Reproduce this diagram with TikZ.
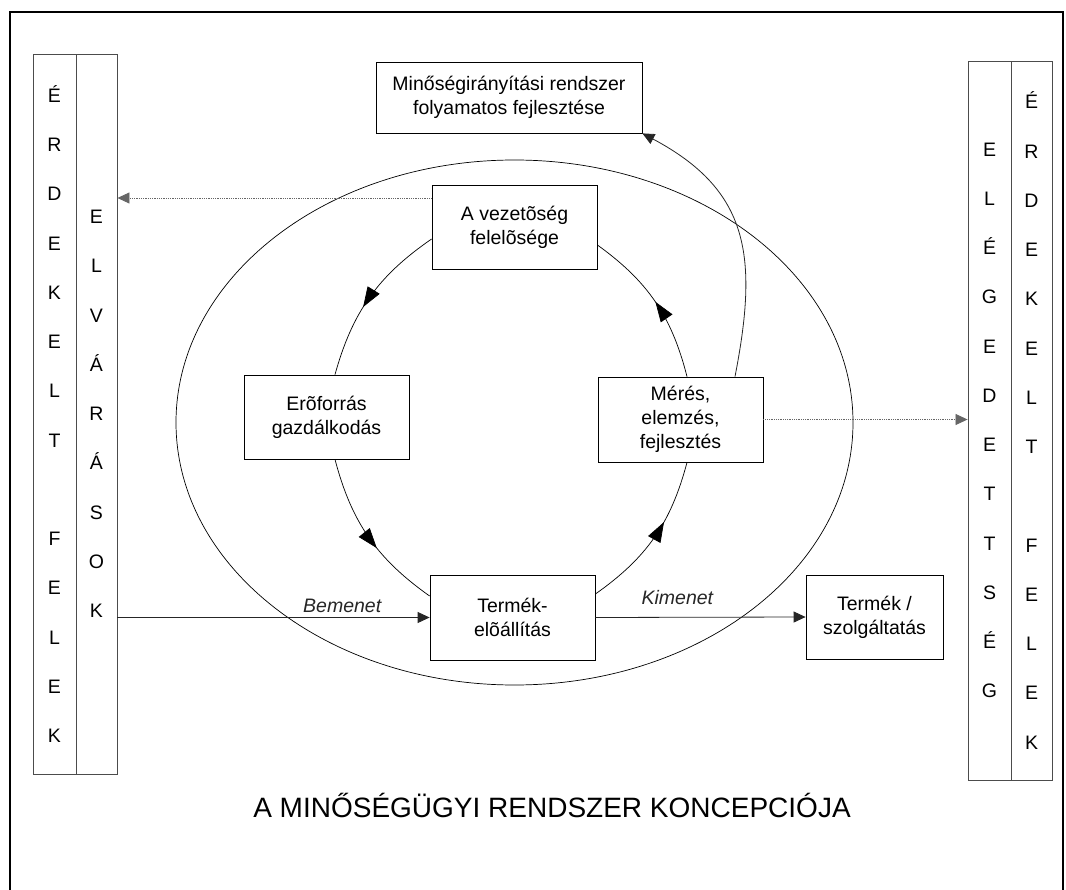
\documentclass[tikz,border=0pt]{standalone}
\usepackage{fontspec}
\setmainfont{Liberation Sans}
\usetikzlibrary{arrows.meta,decorations.markings}

\begin{document}
\begin{tikzpicture}[x=1pt,y=-1pt,>={Triangle[length=12pt,width=11pt]},
  box/.style={draw,line width=0.8pt,minimum width=165pt,minimum height=84pt,inner sep=0pt,align=center,font=\fontsize{19.5}{24}\selectfont},
  col/.style={draw=black!70,line width=0.9pt,minimum height=720pt,inner sep=0pt,align=center,font=\fontsize{19.5}{49.25}\selectfont},
  flow/.style={->,line width=0.8pt,black!85},
  hint/.style={->,line width=0.8pt,densely dotted,black!60},
  label/.style={font=\fontsize{19.5}{24}\selectfont\itshape},
  ring/.style={line width=0.7pt,postaction={decorate},decoration={markings,mark=at position #1 with {\arrow{Triangle[length=20pt,width=14pt]}}}}]
  \useasboundingbox (0,0) rectangle (1066,890);
  \draw[line width=2.2pt] (10,890) -- (10,12) -- (1063,12) -- (1063,890);

  \node[col,minimum width=43pt] (erd1) at (54.5,414) {É\\R\\D\\E\\K\\E\\L\\T\\\mbox{}\\F\\E\\L\\E\\K};
  \node[col,minimum width=41pt] (elv) at (96.5,414) {E\\L\\V\\Á\\R\\Á\\S\\O\\K};
  \node[col,minimum width=43pt,minimum height=719pt] (eleg) at (989.5,420.5) {E\\L\\É\\G\\E\\D\\E\\T\\T\\S\\É\\G};
  \node[col,minimum width=41pt,minimum height=719pt] (erd2) at (1031.5,420.5) {É\\R\\D\\E\\K\\E\\L\\T\\\mbox{}\\F\\E\\L\\E\\K};

  \draw[line width=0.7pt] (514.5,422.5) ellipse (338.5 and 262.5);

  \node[box,minimum width=266pt,minimum height=71pt] (qms) at (509,97.5) {Minőségirányítási rendszer\\folyamatos fejlesztése};
  \node[box] (mgmt) at (514.5,227) {A vezetõség\\felelõsége};
  \node[box] (res) at (326.5,417) {Erõforrás\\gazdálkodás};
  \node[box,minimum height=85pt] (meas) at (680.5,419.5) {Mérés,\\elemzés,\\fejlesztés};
  \node[box,minimum height=85pt] (prod) at (512.5,617.5) {Termék-\\elõállítás};
  \node[box,minimum width=137pt] (out) at (874.5,617) {Termék /\\szolgáltatás};

  \node[font=\fontsize{28}{34}\selectfont] (title) at (552,805) {A MINŐSÉGÜGYI RENDSZER KONCEPCIÓJA};

  \draw[ring=0.57] ([yshift=-12pt]mgmt.west) to[bend right=20] ([xshift=8.5pt]res.north);
  \draw[ring=0.58] ([xshift=8.5pt]res.south) to[bend right=20] ([yshift=21.5pt]prod.west);
  \draw[ring=0.61] ([yshift=23.5pt]prod.east) to[bend right=20] ([xshift=6.5pt]meas.south);
  \draw[ring=0.5] ([xshift=6.5pt]meas.north) to[bend right=20] ([yshift=-18pt]mgmt.east);
  \draw[flow] ([xshift=54.5pt]meas.north) to[out=79,in=-28,looseness=1.2] (qms.south east);

  \coordinate (ask) at ([yshift=29pt]mgmt.west);
  \draw[hint] (ask) -- (ask -| elv.east);
  \draw[hint] (meas.east) -- (meas.east -| eleg.west);
  \draw[flow] (prod.west -| elv.east) -- node[pos=0.72,above=1pt,label] {Bemenet} (prod.west);
  \draw[flow] (prod.east) -- node[pos=0.39,above=9pt,label] {Kimenet} (out.west);
\end{tikzpicture}
\end{document}
